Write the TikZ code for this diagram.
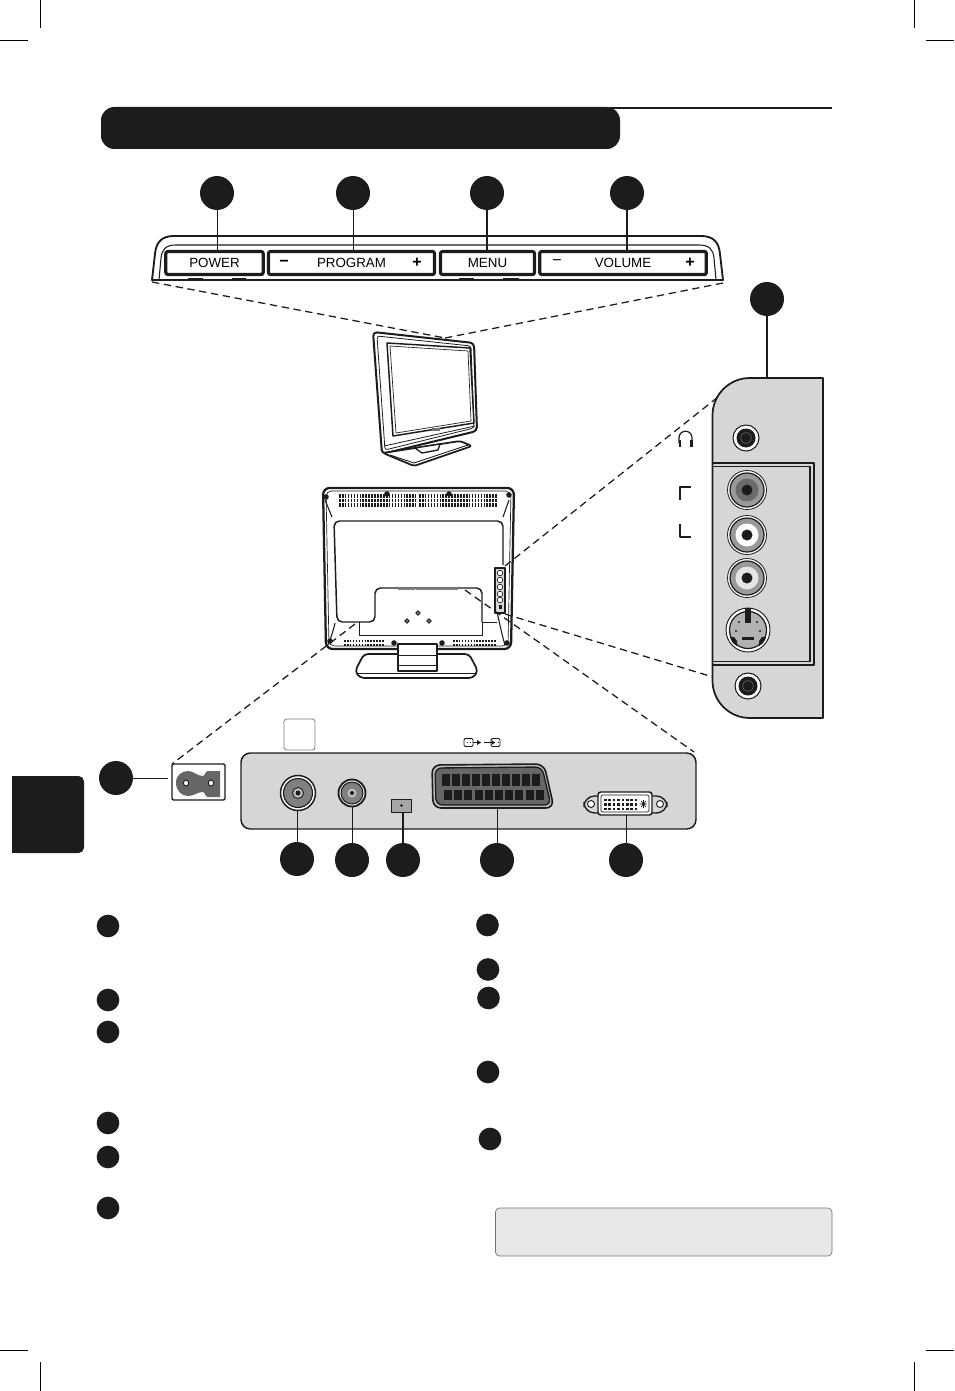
\documentclass[tikz,border=0pt]{standalone}
\usepackage{fontspec}
\setmainfont{Liberation Sans}
\definecolor{tvgray}{gray}{0.84}
\definecolor{boxgray}{gray}{0.91}
\definecolor{inkblack}{gray}{0.11}
\tikzset{
    callout/.style={circle,fill=inkblack,draw=none,minimum size=25.5pt,inner sep=0pt,outer sep=0pt},
    calloutsmall/.style={circle,fill=inkblack,draw=none,minimum size=17pt,inner sep=0pt,outer sep=0pt},
    keycap/.style={draw=inkblack,line width=2.4pt,rounded corners=1.5pt,inner sep=0pt,outer sep=0pt,minimum height=17.25pt,font=\fontsize{10}{12}\selectfont},
    keysign/.style={inner sep=0pt,font=\fontsize{12}{12}\selectfont},
    leader/.style={line width=0.6pt,draw=inkblack},
    dashline/.style={line width=0.95pt,draw=inkblack,dash pattern=on 5.5pt off 3.5pt},
    vent/.style={line width=2.6pt,draw=inkblack,dash pattern=on 1.2pt off 1pt}
}
\begin{document}
\begin{tikzpicture}[x=0.75pt,y=-0.75pt,line join=round]
    \useasboundingbox(0,0)rectangle(954,1391);
    % crop marks
    \foreach \x/\xa/\xb in {40/0/28,914/926/954}
        {
            \draw[line width=0.6pt] (\x,0)--(\x,28);
            \draw[line width=0.6pt] (\x,1362)--(\x,1391);
            \draw[line width=0.6pt] (\xa,40)--(\xb,40);
            \draw[line width=0.6pt] (\xa,1350)--(\xb,1350);
        }
    % title bar and side tab
    \draw[line width=1.2pt,inkblack] (610,108)--(832,108);
    \fill[inkblack,rounded corners=10pt] (101,107) rectangle (620,149);
    \fill[inkblack,rounded corners=4pt] (12,776)--(84,776)--(84,853)--(12,853)[sharp corners]--cycle;
    \fill[inkblack] (12,776) rectangle (30,853);

    % top key strip
    \draw[line width=1.4pt,inkblack]
        (152,280)--(155,254)..controls(156,242)and(162,236)..(174,236)--(701,236)
        ..controls(713,236)and(719,242)..(720,254)--(723,280)--cycle;
    \draw[line width=0.8pt,inkblack]
        (159,280)--(161,258)..controls(162,249)and(166,245)..(176,245)--(699,245)
        ..controls(709,245)and(713,249)..(714,258)--(716,280);
    \node[keycap,minimum width=73pt] (keypower) at (214.5,263) {\raisebox{-0.8pt}{POWER}};
    \node[keycap,minimum width=124.5pt] (keyprogram) at (351.5,263) {\raisebox{-0.8pt}{PROGRAM}};
    \node[keycap,minimum width=70.5pt] (keymenu) at (487.5,263) {\raisebox{-0.8pt}{MENU}};
    \node[keycap,minimum width=125pt] (keyvolume) at (623,263) {\raisebox{-0.8pt}{VOLUME}};
    \node[keysign,font=\fontsize{12}{12}\selectfont\bfseries] (progminus) at (284,263) {\char"2212};
    \node[keysign,font=\fontsize{12}{12}\selectfont\bfseries] (progplus) at (417,263) {+};
    \node[keysign] (volminus) at (557,263) {\char"2212};
    \node[keysign,font=\fontsize{12}{12}\selectfont\bfseries] (volplus) at (690,263) {+};
    \foreach \xa/\xb in {188/203,232/246,459/474,503/519}
        \draw[line width=0.8pt,inkblack] (\xa,278.5)--(\xb,278.5);
    \node[callout] (cpower) at (217,193) {};
    \node[callout] (cprogram) at (353,193) {};
    \node[callout] (cmenu) at (487,193) {};
    \node[callout] (cvolume) at (627,193) {};
    \draw[leader] (cpower)--(cpower|-keypower.north);
    \draw[leader] (cprogram)--(cprogram|-keyprogram.north);
    \draw[leader,line width=0.8pt] (cmenu)--(cmenu|-keymenu.north);
    \draw[leader,line width=1pt] (cvolume)--(cvolume|-keyvolume.north);

    % front view
    \coordinate (frontapex) at (445,338);
    \coordinate (stripleft) at (152,282);
    \coordinate (stripright) at (723,283);
    \draw[dashline] (stripleft)--(frontapex);
    \draw[dashline] (stripright)--(frontapex);
    \draw[line width=1.5pt,inkblack,fill=white,rounded corners=3pt]
        (373,332)--(474,343)--(477,431)--(382,454)--cycle;
    \draw[line width=0.6pt,inkblack,rounded corners=2pt] (377,336)--(471,346)--(474,428)--(385,450)--cycle;
    \draw[line width=1.1pt,inkblack] (387,343)--(470,348)--(474,423)--(393,436)--cycle;
    \draw[line width=0.5pt,inkblack] (390,346)--(468,351)--(471,421)--(396,433)--cycle;
    \draw[line width=0.6pt,inkblack] (384,446)--(475,426);
    \fill[black!55] (432,431) rectangle (440,428);
    \draw[line width=1.3pt,inkblack,fill=white,rounded corners=2pt]
        (383,453)--(460,441)--(472,446)--(414,466)--cycle;
    \draw[line width=0.7pt,inkblack] (390,455)--(414,463)--(468,445);
    \draw[line width=1pt,inkblack,fill=white] (415,448)--(422,453)--(438,450)--(440,444)--cycle;

    % rear view
    \draw[line width=1.7pt,inkblack,fill=white,rounded corners=5pt]
        (323,488)--(514,488)--(511,649)--(326,649)--cycle;
    \draw[line width=0.5pt,inkblack,rounded corners=4pt]
        (326,491)--(511,491)--(508,646)--(329,646)--cycle;
    \foreach \xa/\xb in {339/416,419/497}
        \foreach \y in {496,500.5,505}
            \draw[vent] (\xa,\y)--(\xb,\y);
    \foreach \xa/\xb in {344/385,453/496}
        \foreach \y in {641,645}
            \draw[vent,line width=2.2pt] (\xa,\y)--(\xb,\y);
    \foreach \x/\y in {387/494,449/494,394/643,442/643,330/641,507/643,326/497,509/495}
        \fill[inkblack] (\x,\y) circle[radius=2.8];
    \draw[line width=0.8pt,inkblack] (325,500)--(332,517);
    \draw[line width=0.8pt,inkblack] (509,500)--(503,517);
    \draw[line width=1.1pt,inkblack,rounded corners=4pt]
        (503,565)--(503,521)--(334,521)--(337,622)--(375,622)--(375,588)--(482,588)--(482,622);
    \draw[line width=0.7pt,inkblack] (359,622)--(359,635)--(482,635)--(482,622)--(497,622);
    \draw[line width=1.8pt,gray] (398,589)--(415,589);
    \draw[line width=1.8pt,gray] (416,589)--(458,589);
    \draw[line width=0.8pt,inkblack] (335,623)..controls(333,632)and(331,637)..(328,645);
    \draw[line width=0.8pt,inkblack] (497,612)..controls(500,625)and(502,635)..(505,645);
    \foreach \x/\y in {418/613,407/621,429/621}
        \draw[line width=0.7pt,inkblack,fill=inkblack!60] (\x-2.2,\y)--(\x,\y-2.2)--(\x+2.2,\y)--(\x,\y+2.2)--cycle;
    % side bracket on the rear
    \draw[line width=1.1pt,inkblack,fill=tvgray] (495,568) rectangle (505,613);
    \foreach \y in {573,580,587,594,600}
        \draw[line width=0.5pt,inkblack,fill=white] (500,\y) circle[radius=2.8];
    \fill[inkblack] (498.5,605) rectangle (501.5,609);
    % stand
    \draw[line width=1.3pt,inkblack,fill=white,rounded corners=3pt]
        (355,671)--(364,654)--(469,654)--(478,671)--(473,678)--(360,678)--cycle;
    \draw[line width=0.7pt,inkblack] (358,673)--(475,673);
    \draw[line width=1.2pt,inkblack,fill=white] (398,644)--(437,644)--(437,671)--(398,671)--cycle;
    \draw[line width=0.7pt,inkblack] (398,655)--(437,655);
    \draw[line width=0.7pt,inkblack] (398,665)--(437,665);

    % side panel
    \draw[line width=1.3pt,inkblack,fill=tvgray,rounded corners=28pt]
        (823,378)[sharp corners]--(823,378)[rounded corners=28pt]--(712.5,378)--(712.5,718)[sharp corners]--(823,718)--cycle;
    \draw[line width=1.8pt,inkblack] (712,463)--(814,463)--(814,665)--(712,665);
    \draw[line width=1.2pt,inkblack] (712,466.5)--(810,466.5)--(810,661.5)--(712,661.5);
    \foreach \x/\y in {746/438,748/686}
        {
            \fill[white] (\x,\y) circle[radius=13];
            \draw[line width=0.8pt,inkblack] (\x,\y) circle[radius=13];
            \fill[inkblack] (\x,\y) circle[radius=9.5];
            \draw[line width=0.3pt,gray] (\x,\y) circle[radius=5.5];
        }
    \foreach \y/\col in {490/0.42,535/1,578/0.9}
        {
            \fill[white] (747,\y) circle[radius=19.5];
            \draw[line width=0.6pt,inkblack] (747,\y) circle[radius=19.5];
            \draw[line width=0.9pt,inkblack,fill=black!40] (747,\y) circle[radius=17];
            \definecolor{ringcol}{gray}{\col}
            \fill[ringcol] (747,\y) circle[radius=11.5];
            \fill[inkblack] (747,\y) circle[radius=5.5];
        }
    % s-video socket
    \fill[white] (748,630) circle[radius=22];
    \draw[line width=0.7pt,inkblack] (748,630) circle[radius=22];
    \draw[line width=0.9pt,inkblack,fill=black!30] (748,630) circle[radius=18.5];
    \fill[inkblack] (745,608) rectangle (751,623);
    \fill[inkblack] (742,637) rectangle (754,640);
    \fill[inkblack] (734,637)--(730,637)..controls(731,641)and(733,644)..(737,646)--(737,641)--cycle;
    \fill[inkblack] (762,637)--(766,637)..controls(765,641)and(763,644)..(759,646)--(759,641)--cycle;
    \foreach \x/\y in {739/622,757/622,736/631,760/631}
        \fill[inkblack] (\x,\y) circle[radius=1.2];
    % headphone sign and channel brackets
    \draw[line width=0.9pt,inkblack] (679,443)--(679,438)..controls(679,429)and(692,429)..(692,438)--(692,443);
    \fill[inkblack] (678.5,440) rectangle (681,447);
    \fill[inkblack] (690,440) rectangle (692.5,447);
    \draw[line width=1.4pt,inkblack] (680,500)--(680,487)--(691,487);
    \draw[line width=1.4pt,inkblack] (680,524)--(680,537)--(691,537);
    \node[callout] (cside) at (767,299) {};
    \coordinate (sidetop) at (767,378);
    \draw[leader,line width=1.1pt] (cside)--(sidetop);

    % rear connector bar
    \draw[line width=1.1pt,inkblack,fill=tvgray,rounded corners=7pt] (241,753) rectangle (696,829);
    \draw[line width=0.6pt,black!50,fill=white,rounded corners=2pt] (284,719) rectangle (315,750);
    % aerial sockets
    \draw[line width=1.1pt,inkblack,fill=white] (298,793) circle[radius=17.5];
    \draw[line width=0.8pt,inkblack,fill=black!50] (298,793) circle[radius=14.5];
    \fill[black!25] (298,793) circle[radius=5.5];
    \fill[inkblack] (298,793) circle[radius=2.5];
    \draw[line width=0.7pt,inkblack] (298,793) circle[radius=5.5];
    \draw[line width=1.4pt,inkblack,fill=white] (352,793) circle[radius=13.5];
    \draw[line width=0.8pt,inkblack,fill=black!50] (352,793) circle[radius=11];
    \fill[black!25] (352,793) circle[radius=4.5];
    \fill[inkblack] (352,793) circle[radius=2];
    % small module
    \draw[line width=0.6pt,inkblack,fill=black!35] (391,799) rectangle (411,812);
    \draw[line width=0.4pt,inkblack] (399.5,805.5)--(402.5,805.5) (401,804)--(401,807);
    % scart socket
    \draw[line width=1.2pt,inkblack,fill=black!25,rounded corners=6pt]
        (432,765)--(544,764)--(554,808)--(433,808)--cycle;
    \draw[line width=1pt,inkblack,fill=black!60,rounded corners=5pt]
        (435,768)--(542,767)--(551,805)--(436,805)--cycle;
    \foreach \x in {0,...,9}
        {
            \fill[inkblack] (442+10.0*\x,774) rectangle ++(8,12);
            \fill[inkblack] (444+10.2*\x,790) rectangle ++(8,10);
        }
    % dvi socket
    \draw[line width=1pt,inkblack,fill=tvgray,rounded corners=8pt] (584,796) rectangle (667,813);
    \draw[line width=0.7pt,inkblack,fill=white] (591,804) circle[radius=3.5];
    \draw[line width=0.7pt,inkblack,fill=white] (660,804) circle[radius=3.5];
    \draw[line width=1.1pt,inkblack,fill=white,rounded corners=2pt] (598,792) rectangle (652,815);
    \draw[line width=0.5pt,inkblack,fill=white,rounded corners=1pt] (601,795) rectangle (649,812);
    \foreach \x in {0,...,7}
        \foreach \y in {0,1,2}
            \fill[inkblack] (604+4.4*\x,798.5+4.5*\y) rectangle ++(2.6,2.6);
    \draw[line width=0.5pt,inkblack] (640,804)--(647,804) (643.5,800)--(643.5,808) (641,801)--(646,807) (646,801)--(641,807);
    % scart signs above the bar
    \draw[line width=0.7pt,inkblack,fill=white,rounded corners=1pt] (464,738.5) rectangle (473,746.5);
    \draw[line width=0.7pt,inkblack,fill=white,rounded corners=1pt] (491,738.5) rectangle (500,746.5);
    \draw[line width=0.7pt,inkblack] (473,742.5)--(481,742.5);
    \draw[line width=0.7pt,inkblack] (484,742.5)--(495,742.5);
    \fill[inkblack] (481,742.5)--(477,740)--(477,745)--cycle;
    \fill[inkblack] (495,742.5)--(491.5,740)--(491.5,745)--cycle;
    \foreach \x in {467,470}
        \fill[inkblack] (\x,742) rectangle ++(1.2,1.2);
    \fill[inkblack] (497.5,742) rectangle ++(1.2,1.2);

    % callouts under the bar
    \node[callout] (caerial) at (297,859) {};
    \node[callout] (csat) at (352,860) {};
    \node[callout] (cmodule) at (403,860) {};
    \node[callout] (cscart) at (497,860) {};
    \node[callout] (cdvi) at (626,860) {};
    \coordinate (aerialend) at (297,810);
    \coordinate (satend) at (352,807);
    \coordinate (moduleend) at (403,812);
    \coordinate (scartend) at (497,808);
    \coordinate (dviend) at (626,815);
    \draw[leader] (caerial)--(aerialend);
    \draw[leader] (csat)--(satend);
    \draw[leader,line width=1.3pt] (cmodule)--(moduleend);
    \draw[leader] (cscart)--(scartend);
    \draw[leader] (cdvi)--(dviend);

    % mains inlet
    \draw[line width=1.1pt,inkblack,fill=white,rounded corners=1pt] (172,764) rectangle (225,800);
    \node[callout] (cmains) at (116,778) {};
    \coordinate (mainsend) at (168,778);
    \draw[leader] (cmains)--(mainsend);
    \fill[black!60] (176,783)..controls(176,775)and(182,771)..(188,771)
        ..controls(194,771)and(197,776)..(203,776)..controls(205,776)and(205,771)..(208,771)
        --(220,771)--(220,797)--(208,797)..controls(205,797)and(205,792)..(203,792)
        ..controls(197,792)and(194,796)..(188,796)..controls(182,796)and(176,791)..(176,783)--cycle;
    \draw[line width=0.7pt,inkblack,fill=white] (186,783) ellipse[x radius=2.6,y radius=3];
    \draw[line width=0.7pt,inkblack,fill=white] (211,783) ellipse[x radius=2.6,y radius=3];

    % dashed zoom lines
    \coordinate (bracketup) at (505,566);
    \coordinate (bracketlow) at (505,614);
    \coordinate (rearslot) at (465,590);
    \coordinate (rearmains) at (355,624);
    \coordinate (panelup) at (718,397);
    \coordinate (panellow) at (713,677);
    \coordinate (barright) at (694,752);
    \coordinate (inletcorner) at (172,764);
    \draw[dashline] (bracketup)--(panelup);
    \draw[dashline] (bracketlow)--(panellow);
    \draw[dashline] (rearslot)--(barright);
    \draw[dashline] (rearmains)--(inletcorner);

    % legend markers
    \foreach \x/\y [count=\i] in {108/926,108/1000,108/1032,108/1123,108/1157,108/1208,
        487.5/925,488/969.5,488.5/998,488/1072,490/1139}
        \node[calloutsmall] (legend\i) at (\x,\y) {};
    % note box
    \draw[line width=0.5pt,black!55,fill=boxgray,rounded corners=3pt] (495.5,1208) rectangle (832,1256);
\end{tikzpicture}
\end{document}
